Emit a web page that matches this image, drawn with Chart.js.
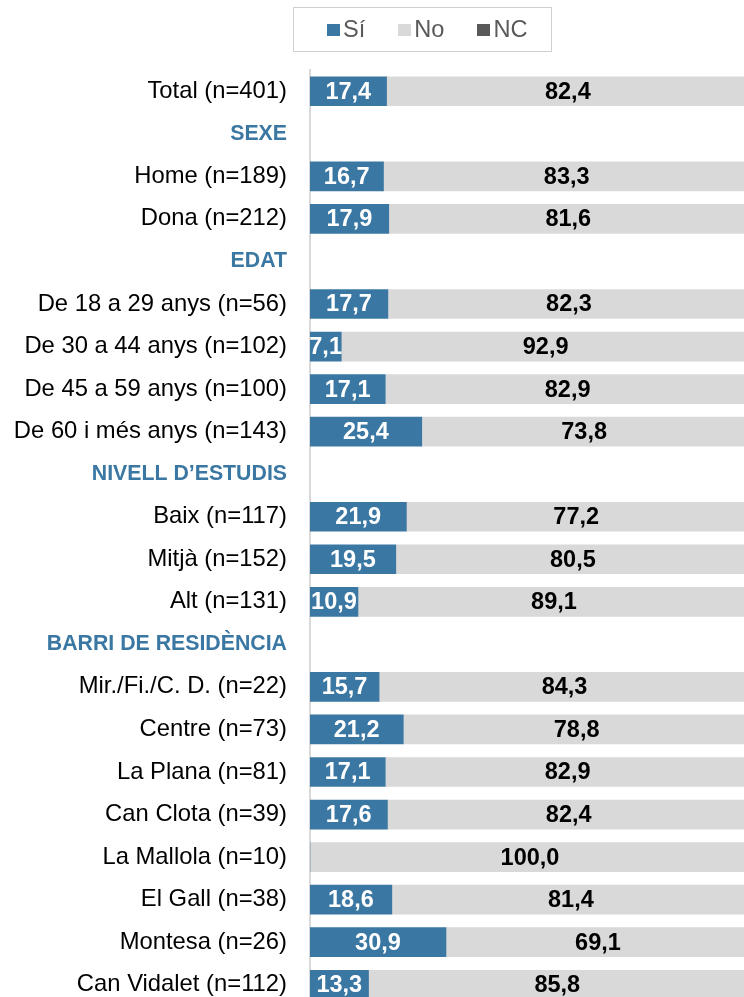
<!DOCTYPE html>
<html>
<head>
<meta charset="utf-8">
<script src="https://cdn.jsdelivr.net/npm/chart.js@4.4.0/dist/chart.umd.min.js"></script>
<style>
  body { margin: 0; overflow: hidden; background: #fff; font-family: "Liberation Sans", Arial, sans-serif; }
  #wrap { position: relative; width: 760px; height: 1006px; }
  #myChart { position: absolute; left: 0; top: 0; }
  #legend {
    position: absolute; left: 293px; top: 7px; width: 257px; height: 43px; box-sizing: content-box;
    border: 1.5px solid #d0d0d0; display: flex; align-items: center; justify-content: flex-start;
    padding-left: 0; font-size: 23.6px; color: #595959;
  }
  #legend span.item { display: flex; align-items: center; margin-left: 33px; }
  #legend span.item:first-child { margin-left: 33px; }
  #legend span.sw { display: inline-block; width: 12.5px; height: 12px; margin-right: 3.5px; }
</style>
</head>
<body>
<div id="wrap">
  <canvas id="myChart" width="760" height="1006"></canvas>
  <div id="legend"></div>
</div>
<script>
var categories = ['Total (n=401)', 'SEXE', 'Home (n=189)', 'Dona (n=212)', 'EDAT',
    'De 18 a 29 anys (n=56)', 'De 30 a 44 anys (n=102)', 'De 45 a 59 anys (n=100)', 'De 60 i més anys (n=143)',
    'NIVELL D\u2019ESTUDIS', 'Baix (n=117)', 'Mitjà (n=152)', 'Alt (n=131)',
    'BARRI DE RESIDÈNCIA', 'Mir./Fi./C. D. (n=22)', 'Centre (n=73)', 'La Plana (n=81)', 'Can Clota (n=39)',
    'La Mallola (n=10)', 'El Gall (n=38)', 'Montesa (n=26)', 'Can Vidalet (n=112)'];
var headers = ['SEXE', 'EDAT', 'NIVELL D\u2019ESTUDIS', 'BARRI DE RESIDÈNCIA'];

var siData = [17.4, null, 16.7, 17.9, null, 17.7, 7.1, 17.1, 25.4, null, 21.9, 19.5, 10.9,
    null, 15.7, 21.2, 17.1, 17.6, 0, 18.6, 30.9, 13.3];
var noData = [82.4, null, 83.3, 81.6, null, 82.3, 92.9, 82.9, 73.8, null, 77.2, 80.5, 89.1,
    null, 84.3, 78.8, 82.9, 82.4, 100.0, 81.4, 69.1, 85.8];
var ncData = [0.2, null, 0, 0.5, null, 0, 0, 0, 0.8, null, 0.9, 0, 0,
    null, 0, 0, 0, 0, 0, 0, 0, 0.9];

var seriesNames = ['Sí', 'No', 'NC'];
var seriesColors = ['#3a77a2', '#d9d9d9', '#595959'];
var labelColors = ['#ffffff', '#000000'];

// html legend with the box border
var legendEl = document.getElementById('legend');
seriesNames.forEach(function(name, i){
    var item = document.createElement('span');
    item.className = 'item';
    item.innerHTML = '<span class="sw" style="background:' + seriesColors[i] + '"></span>' + name;
    legendEl.appendChild(item);
});

var barLabels = {
    id: 'barLabels',
    afterDatasetsDraw: function(chart) {
        var ctx = chart.ctx;
        ctx.save();
        ctx.font = 'bold 23.5px "Liberation Sans", Arial, sans-serif';
        ctx.textAlign = 'center';
        ctx.textBaseline = 'middle';
        [0, 1].forEach(function(di){
            var meta = chart.getDatasetMeta(di);
            var data = chart.data.datasets[di].data;
            meta.data.forEach(function(el, i){
                var v = data[i];
                if (v === null || v === 0) return;
                ctx.fillStyle = labelColors[di];
                ctx.fillText(v.toFixed(1).replace('.', ','), (el.x + el.base) / 2, el.y + 1);
            });
        });
        ctx.restore();
    }
};

function isHeader(i) {
    return headers.indexOf(categories[i]) >= 0;
}

var ctx = document.getElementById('myChart').getContext('2d');
var myChart = new Chart(ctx, {
    type: 'bar',
    data: {
        labels: categories,
        datasets: [
            { label: seriesNames[0], data: siData, backgroundColor: seriesColors[0], barThickness: 29 },
            { label: seriesNames[1], data: noData, backgroundColor: seriesColors[1], barThickness: 29 },
            { label: seriesNames[2], data: ncData, backgroundColor: seriesColors[2], barThickness: 29 }
        ]
    },
    options: {
        indexAxis: 'y',
        responsive: false,
        animation: false,
        layout: { padding: { top: 70, right: 10, bottom: 0, left: 0 } },
        plugins: {
            legend: { display: false },
            tooltip: { enabled: false }
        },
        scales: {
            x: {
                stacked: true,
                min: 0,
                max: 100,
                display: false
            },
            y: {
                stacked: true,
                grid: { display: true, drawOnChartArea: false, drawTicks: false },
                border: { display: true, color: '#d9d9d9', width: 2 },
                afterFit: function(scale) {
                    scale.width = 310;
                    // keep the label padding from eating the plot height
                    scale.paddingTop = 0;
                    scale.paddingBottom = 0;
                },
                ticks: {
                    padding: 23,
                    autoSkip: false,
                    color: function(c) { return isHeader(c.index) ? '#3a77a2' : '#000000'; },
                    font: function(c) {
                        return isHeader(c.index)
                            ? { family: '"Liberation Sans", Arial, sans-serif', size: 21.3, weight: 'bold' }
                            : { family: '"Liberation Sans", Arial, sans-serif', size: 23.8, weight: 'normal' };
                    }
                }
            }
        }
    },
    plugins: [barLabels]
});
</script>
</body>
</html>
